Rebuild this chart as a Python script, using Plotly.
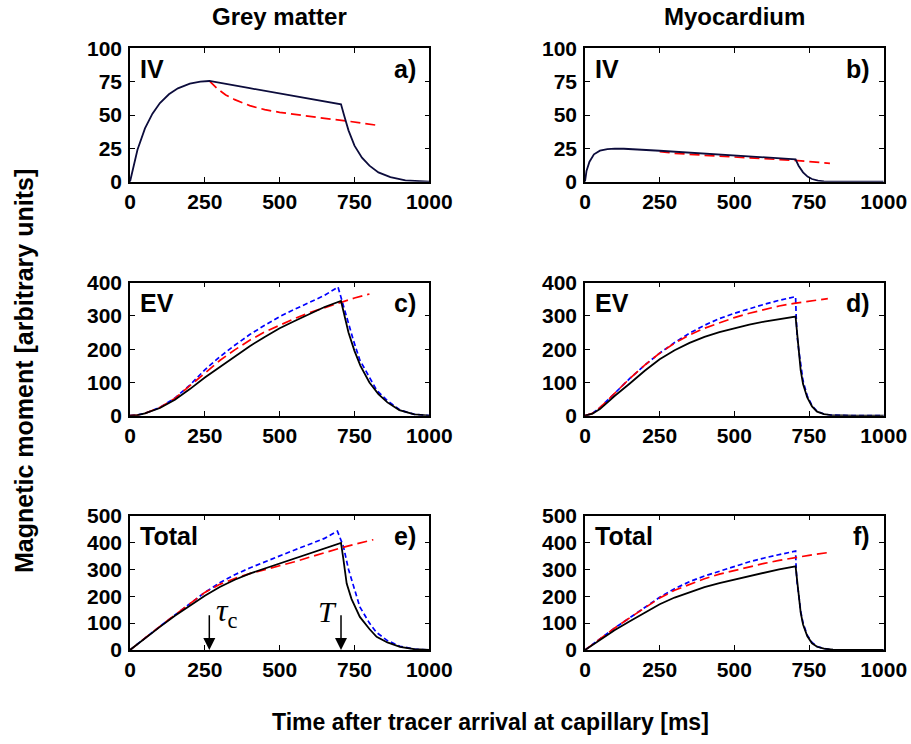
import plotly.graph_objects as go

# ---- Grey matter, intravascular (IV) ----
gm_iv_t = [0, 10, 25, 50, 75, 100, 130, 160, 200, 235, 265, 400, 550, 705,
           715, 730, 750, 775, 800, 830, 870, 920, 1000]
gm_iv_y = [0, 10.5, 24, 40, 51, 59, 65.5, 70, 73.5, 75, 75.5, 70.1, 64.2, 58,
           50, 38.5, 27, 18, 12, 7, 3.5, 1, 0]
gm_iv_fit_t = [265, 290, 320, 350, 400, 450, 500, 575, 650, 725, 820]
gm_iv_fit_y = [75.5, 70, 65, 61.5, 57, 54, 52, 49.5, 47.5, 45.5, 42.5]

# ---- Myocardium, intravascular (IV) ----
my_iv_t = [0, 5, 15, 30, 50, 75, 100, 130, 250, 400, 550, 705,
           715, 730, 745, 760, 780, 800, 850, 1000]
my_iv_y = [0, 8, 15, 20.5, 23.3, 24.5, 24.8, 24.7, 23.2, 21.2, 19.2, 16.8,
           12, 7, 3.8, 2, 0.8, 0.3, 0, 0]
my_iv_fit_t = [250, 300, 400, 500, 600, 700, 820]
my_iv_fit_y = [22.5, 21.3, 19.8, 18.7, 17.5, 16.0, 13.8]

# ---- Grey matter, extravascular (EV) ----
gm_ev_t = [0, 25, 50, 75, 100, 150, 200, 250, 300, 350, 400, 450, 500, 550,
           600, 650, 705, 715, 730, 750, 770, 800, 830, 860, 900, 950, 1000]
gm_ev_y = [0, 2, 7, 14, 23, 48, 80, 115, 147, 179, 209, 237, 263, 285,
           307, 327, 345, 305, 250, 195, 150, 100, 65, 40, 17, 4, 0]
gm_ev_fit_t = [0, 25, 50, 75, 100, 150, 200, 250, 300, 350, 400, 450, 500,
               550, 600, 650, 700, 750, 800]
gm_ev_fit_y = [0, 2, 7, 15, 25, 52, 90, 130, 166, 198, 227, 252, 273,
               292, 310, 325, 340, 354, 366]
gm_ev_approx_t = [0, 25, 50, 75, 100, 150, 200, 250, 300, 350, 400, 450, 500,
                  550, 600, 650, 695, 713, 730, 746, 768, 800, 824, 860, 902,
                  950, 1000]
gm_ev_approx_y = [0, 2, 7, 15, 25, 53, 92, 138, 177, 212, 244, 272, 298,
                  320, 342, 362, 387, 328, 280, 228, 167, 115, 77, 45, 17,
                  4, 0]

# ---- Myocardium, extravascular (EV) ----
my_ev_t = [0, 25, 50, 75, 100, 150, 200, 250, 300, 350, 400, 450, 500, 550,
           600, 650, 705, 710, 716, 722, 730, 744, 760, 777, 800, 822, 900,
           1000]
my_ev_y = [0, 6, 20, 40, 60, 97, 135, 170, 197, 219, 237, 251, 263, 274,
           283, 291, 298, 250, 190, 137, 95, 55, 28, 12, 5, 2, 0, 0]
my_ev_fit_t = [0, 25, 50, 75, 100, 150, 200, 250, 300, 350, 400, 450, 500,
               550, 600, 650, 700, 750, 813]
my_ev_fit_y = [0, 7, 24, 46, 70, 112, 152, 188, 218, 243, 263, 280, 295,
               308, 320, 330, 338, 345, 352]
my_ev_approx_t = [0, 25, 50, 75, 100, 150, 200, 250, 300, 350, 400, 450, 500,
                  550, 600, 650, 705, 707, 710, 716, 722, 730, 744, 760, 777,
                  800, 822, 900, 1000]
my_ev_approx_y = [0, 7, 24, 46, 70, 112, 152, 188, 220, 248, 272, 292, 308,
                  322, 335, 347, 358, 300, 240, 195, 150, 105, 60, 30, 13,
                  5, 2, 0, 0]

# ---- Grey matter, total ----
gm_tot_t = [0, 50, 100, 150, 200, 250, 300, 350, 400, 450, 500, 550, 600,
            650, 705, 712, 724, 740, 768, 800, 824, 860, 902, 950, 1000]
gm_tot_y = [0, 44, 86, 127, 166, 202, 234, 261, 284, 303, 320, 339, 358,
            377, 398, 345, 247, 190, 123, 78, 49, 28, 12, 3, 0]
gm_tot_fit_t = [0, 50, 100, 150, 200, 250, 300, 350, 400, 450, 500, 550, 600,
                650, 700, 750, 813]
gm_tot_fit_y = [0, 45, 88, 130, 172, 214, 244, 266, 284, 298, 312, 328, 345,
                362, 378, 393, 410]
gm_tot_approx_t = [0, 50, 100, 150, 200, 250, 300, 350, 400, 450, 500, 550,
                   600, 650, 693, 713, 730, 750, 768, 800, 824, 860, 902, 950,
                   1000]
gm_tot_approx_y = [0, 45, 88, 130, 172, 214, 250, 280, 305, 328, 350, 372,
                   393, 415, 442, 385, 300, 225, 160, 100, 65, 35, 14, 3, 0]

# ---- Myocardium, total ----
my_tot_t = [0, 50, 100, 150, 200, 250, 300, 350, 400, 450, 500, 550, 600,
            650, 705, 710, 716, 722, 730, 744, 760, 777, 800, 830, 870, 1000]
my_tot_y = [0, 38, 74, 107, 138, 170, 195, 216, 234, 249, 262, 276, 289,
            300, 311, 260, 200, 140, 95, 52, 25, 12, 5, 1.5, 0, 0]
my_tot_fit_t = [0, 50, 100, 150, 200, 250, 300, 350, 400, 450, 500, 550, 600,
                650, 700, 750, 813]
my_tot_fit_y = [0, 42, 82, 120, 158, 193, 222, 245, 265, 282, 296, 310, 322,
                333, 343, 352, 362]
my_tot_approx_t = [0, 50, 100, 150, 200, 250, 300, 350, 400, 450, 500, 550,
                   600, 650, 705, 707, 710, 716, 722, 730, 744, 760, 777, 800,
                   830, 870, 1000]
my_tot_approx_y = [0, 42, 82, 120, 158, 196, 228, 254, 275, 293, 312, 328,
                   342, 355, 368, 300, 250, 200, 145, 100, 55, 28, 13, 5,
                   1.5, 0, 0]

column_titles = ["Grey matter", "Myocardium"]
row_labels = ["IV", "EV", "Total"]
panel_letters = ["a)", "b)", "c)", "d)", "e)", "f)"]
y_ranges = [[0, 100], [0, 400], [0, 500]]
y_dticks = [25, 100, 100]
x_ticks = [0, 250, 500, 750, 1000]
tau_c = 265
T_end = 705
arrow_top = 135

BOLD = dict(family="Liberation Sans, Arial, sans-serif", color="black",
            weight="bold")

panels = [
    # (row, col, solid, fit, approx)
    (0, 0, (gm_iv_t, gm_iv_y), (gm_iv_fit_t, gm_iv_fit_y), None),
    (0, 1, (my_iv_t, my_iv_y), (my_iv_fit_t, my_iv_fit_y), None),
    (1, 0, (gm_ev_t, gm_ev_y), (gm_ev_fit_t, gm_ev_fit_y),
     (gm_ev_approx_t, gm_ev_approx_y)),
    (1, 1, (my_ev_t, my_ev_y), (my_ev_fit_t, my_ev_fit_y),
     (my_ev_approx_t, my_ev_approx_y)),
    (2, 0, (gm_tot_t, gm_tot_y), (gm_tot_fit_t, gm_tot_fit_y),
     (gm_tot_approx_t, gm_tot_approx_y)),
    (2, 1, (my_tot_t, my_tot_y), (my_tot_fit_t, my_tot_fit_y),
     (my_tot_approx_t, my_tot_approx_y)),
]

W, H = 911, 744
col_dom = [[130 / W, 429.3 / W], [585 / W, 883.7 / W]]
row_dom = [[1 - 181.7 / H, 1 - 48.3 / H],
           [1 - 415.7 / H, 1 - 282.7 / H],
           [1 - 650 / H, 1 - 515.5 / H]]

fig = go.Figure()
layout = dict(template="none", width=W, height=H,
              margin=dict(l=0, r=0, t=0, b=0, autoexpand=False),
              plot_bgcolor="white", paper_bgcolor="white", showlegend=False)
annotations = []

for i, (r, c, solid, fit, approx) in enumerate(panels):
    n = i + 1
    xa = "x" if n == 1 else f"x{n}"
    ya = "y" if n == 1 else f"y{n}"
    solid_color = "#0c0c3c" if r == 0 else "black"
    if approx is not None:
        fig.add_trace(go.Scatter(x=approx[0], y=approx[1], mode="lines",
                                 xaxis=xa, yaxis=ya,
                                 line=dict(color="#0000ff", width=1.7,
                                           dash="5px,3px")))
    fig.add_trace(go.Scatter(x=fit[0], y=fit[1], mode="lines",
                             xaxis=xa, yaxis=ya,
                             line=dict(color="#ff0000", width=1.7,
                                       dash="10px,5px")))
    fig.add_trace(go.Scatter(x=solid[0], y=solid[1], mode="lines",
                             xaxis=xa, yaxis=ya,
                             line=dict(color=solid_color, width=1.8)))

    axis_common = dict(showline=True, linecolor="black", linewidth=1.5,
                       mirror="ticks", ticks="inside", ticklen=5,
                       tickwidth=1, tickcolor="black", showgrid=False,
                       zeroline=False, automargin=False,
                       tickfont=dict(size=21, **BOLD))
    layout["xaxis" if n == 1 else f"xaxis{n}"] = dict(
        domain=col_dom[c], range=[0, 1000], tickvals=x_ticks,
        anchor=ya, ticklabelstandoff=0, **axis_common)
    layout["yaxis" if n == 1 else f"yaxis{n}"] = dict(
        domain=row_dom[r], range=y_ranges[r], dtick=y_dticks[r],
        anchor=xa, ticklabelstandoff=2, **axis_common)

    annotations.append(dict(text=row_labels[r], xref=f"{xa} domain",
                            yref=f"{ya} domain", x=0.026, y=0.845,
                            xanchor="left", yanchor="middle", showarrow=False,
                            font=dict(size=25, **BOLD)))
    annotations.append(dict(text=panel_letters[i], xref=f"{xa} domain",
                            yref=f"{ya} domain", x=0.962, y=0.845,
                            xanchor="right", yanchor="middle",
                            showarrow=False, font=dict(size=25, **BOLD)))

# Column headings
for c, title in enumerate(column_titles):
    annotations.append(dict(text=title, xref="paper", yref="paper",
                            x=sum(col_dom[c]) / 2, y=1 - 17 / H,
                            xanchor="center", yanchor="middle",
                            showarrow=False, font=dict(size=24, **BOLD)))

# Shared axis titles
annotations.append(dict(text="Magnetic moment [arbitrary units]",
                        xref="paper", yref="paper", x=24 / W, y=1 - 371 / H,
                        xanchor="center", yanchor="middle", textangle=-90,
                        showarrow=False, font=dict(size=25, **BOLD)))
annotations.append(dict(text="Time after tracer arrival at capillary [ms]",
                        xref="paper", yref="paper", x=490 / W, y=1 - 722 / H,
                        xanchor="center", yanchor="middle",
                        showarrow=False, font=dict(size=23, **BOLD)))

# Arrows marking tau_c and T in panel e
for tx in (tau_c, T_end):
    annotations.append(dict(x=tx, y=0, ax=tx, ay=arrow_top, xref="x5",
                            yref="y5", axref="x5", ayref="y5", text="",
                            showarrow=True, arrowhead=2, arrowsize=1.6,
                            arrowwidth=1.5, arrowcolor="black"))
serif = dict(family="Liberation Serif, DejaVu Serif, serif", color="black")
annotations.append(dict(text="<i>τ</i><sub>c</sub>", x=tau_c + 16,
                        y=arrow_top + 5, xref="x5", yref="y5",
                        xanchor="left", yanchor="middle", showarrow=False,
                        font=dict(size=32, **serif)))
annotations.append(dict(text="<i>T</i>", x=T_end - 8, y=arrow_top + 8,
                        xref="x5", yref="y5", xanchor="right",
                        yanchor="middle", showarrow=False,
                        font=dict(size=30, **serif)))

layout["annotations"] = annotations
fig.update_layout(**layout)
fig.write_html("out.html")
